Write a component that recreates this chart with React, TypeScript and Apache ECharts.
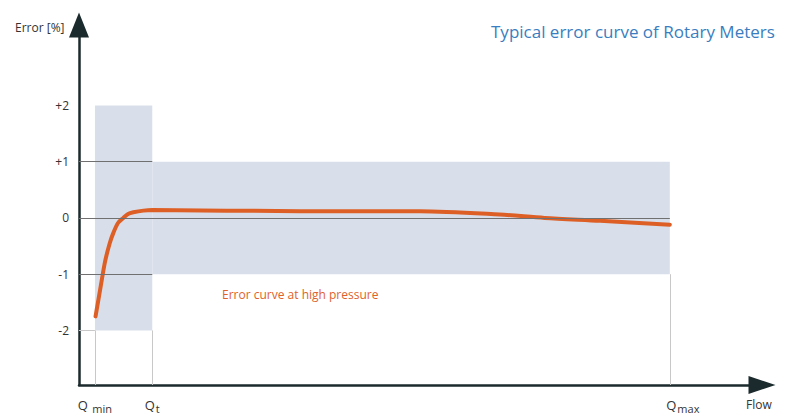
import React, { useEffect, useRef } from "react";
import * as echarts from "echarts";

// Flow markers (x positions, Qmax = 100)
const flowMarks = [2.7, 12.4, 100];
const flowMarkNames = ["min", "t", "max"];
// Error tick labels
const errorTicks = [-2, -1, 0, 1, 2];
const errorTickLabels = ["-2", "-1", "0", "+1", "+2"];
// Error curve at high pressure
const curveFlow = [2.8, 3.7, 4.4, 5.2, 5.8, 6.6, 7.5, 8.3, 9.2, 10.9, 12.4, 37.4, 57.7, 71.2, 78.8, 88.2, 100];
const curveError = [-1.75, -1.2, -0.78, -0.45, -0.27, -0.09, 0.0, 0.07, 0.1, 0.13, 0.14, 0.12, 0.12, 0.06, 0.0, -0.05, -0.12];
// Tolerance bands [x1, x2, y1, y2]
const bandLow = [2.7, 12.4, -2, 2];
const bandHigh = [12.4, 100, -1, 1];

export default function App() {
  const ref = useRef<HTMLDivElement>(null);
  useEffect(() => {
    const chart = echarts.init(ref.current!, null, { renderer: "svg" });
    const [Qmin, Qt, Qmax] = flowMarks;
    const font = "Open Sans";
    const gridColor = "#707070";
    const thinColor = "#c8c8c8";
    const yMin = -2.97;
    const option: any = {
      animation: false,
      textStyle: { fontFamily: font },
      title: {
        text: "Typical error curve of Rotary Meters",
        left: 486,
        top: 18,
        textStyle: { color: "#3a7dc0", fontSize: 17, fontWeight: "normal", fontFamily: font },
      },
      grid: { left: 79, right: 28, top: 25, bottom: 31 },
      xAxis: {
        type: "value",
        min: 0,
        max: 115.6,
        splitLine: { show: false },
        axisTick: { show: false },
        axisLine: {
          onZero: false,
          lineStyle: { color: "#1b2a2d", width: 2.5 },
          symbol: ["none", "triangle"],
          symbolSize: [18, 27],
        },
        axisLabel: {
          customValues: flowMarks,
          margin: 10,
          color: "#333",
          formatter: (v: number) => {
            const i = flowMarks.findIndex((m) => Math.abs(m - v) < 1e-6);
            if (i < 0) return "";
            const name = flowMarkNames[i];
            if (name === "max") return "{qm|Q}{s|max}";
            if (name === "min") return "{q|Q }{s|min}";
            return "{q|Q}{s|" + name + "}";
          },
          rich: {
            q: { fontSize: 13, fontFamily: font, color: "#333" },
            qm: { fontSize: 13, fontFamily: font, color: "#333", padding: [0, 0, 0, 26] },
            s: { fontSize: 11, fontFamily: font, color: "#333", padding: [8, 0, 0, 1] },
          },
        },
      },
      yAxis: {
        type: "value",
        min: yMin,
        max: 3.43,
        splitLine: { show: false },
        axisTick: { show: false },
        axisLine: {
          onZero: false,
          lineStyle: { color: "#1b2a2d", width: 2.5 },
          symbol: ["none", "triangle"],
          symbolSize: [20, 25],
        },
        axisLabel: {
          customValues: errorTicks,
          margin: 10,
          color: "#333",
          fontSize: 12,
          fontFamily: font,
          formatter: (v: number) => {
            const i = errorTicks.findIndex((t) => Math.abs(t - v) < 1e-6);
            return i < 0 ? "" : errorTickLabels[i];
          },
        },
      },
      graphic: [
        {
          type: "text",
          left: 15,
          top: 21,
          style: { text: "Error [%]", fontSize: 12, fill: "#333", fontFamily: font },
        },
        {
          type: "text",
          left: 746,
          top: 398,
          style: { text: "Flow", fontSize: 12, fill: "#333", fontFamily: font },
        },
        {
          type: "text",
          left: 222,
          top: 288,
          style: { text: "Error curve at high pressure", fontSize: 12, fill: "#e0622a", fontFamily: font },
        },
      ],
      series: [
        {
          type: "line",
          data: [],
          z: 1,
          silent: true,
          markArea: {
            silent: true,
            itemStyle: { color: "#d9dfea" },
            data: [
              [{ coord: [bandLow[0], bandLow[3]] }, { coord: [bandLow[1], bandLow[2]] }],
              [{ coord: [bandHigh[0], bandHigh[3]] }, { coord: [bandHigh[1], bandHigh[2]] }],
            ],
          },
        },
        {
          type: "line",
          data: [],
          z: 2,
          silent: true,
          markLine: {
            silent: true,
            symbol: ["none", "none"],
            label: { show: false },
            lineStyle: { type: "solid" },
            data: [
              [{ coord: [0, 1], lineStyle: { color: gridColor, width: 1 } }, { coord: [Qt, 1] }],
              [{ coord: [0, 0], lineStyle: { color: gridColor, width: 1 } }, { coord: [Qmax, 0] }],
              [{ coord: [0, -1], lineStyle: { color: gridColor, width: 1 } }, { coord: [Qt, -1] }],
              [{ coord: [0, -2], lineStyle: { color: thinColor, width: 1 } }, { coord: [Qmin, -2] }],
              [{ coord: [Qmin, -2], lineStyle: { color: thinColor, width: 1 } }, { coord: [Qmin, yMin] }],
              [{ coord: [Qt, -2], lineStyle: { color: thinColor, width: 1 } }, { coord: [Qt, yMin] }],
              [{ coord: [Qmax, -1], lineStyle: { color: thinColor, width: 1 } }, { coord: [Qmax, yMin] }],
            ],
          },
        },
        {
          type: "line",
          z: 3,
          smooth: 0.3,
          symbol: "none",
          lineStyle: { color: "#dd5f26", width: 4, cap: "round" },
          data: curveFlow.map((x, i) => [x, curveError[i]]),
        },
      ],
    };
    chart.setOption(option);
    return () => chart.dispose();
  }, []);
  return (
    <div
      ref={ref}
      style={{ position: "fixed", left: 0, top: 0, width: 790, height: 416, background: "#fff" }}
    />
  );
}
